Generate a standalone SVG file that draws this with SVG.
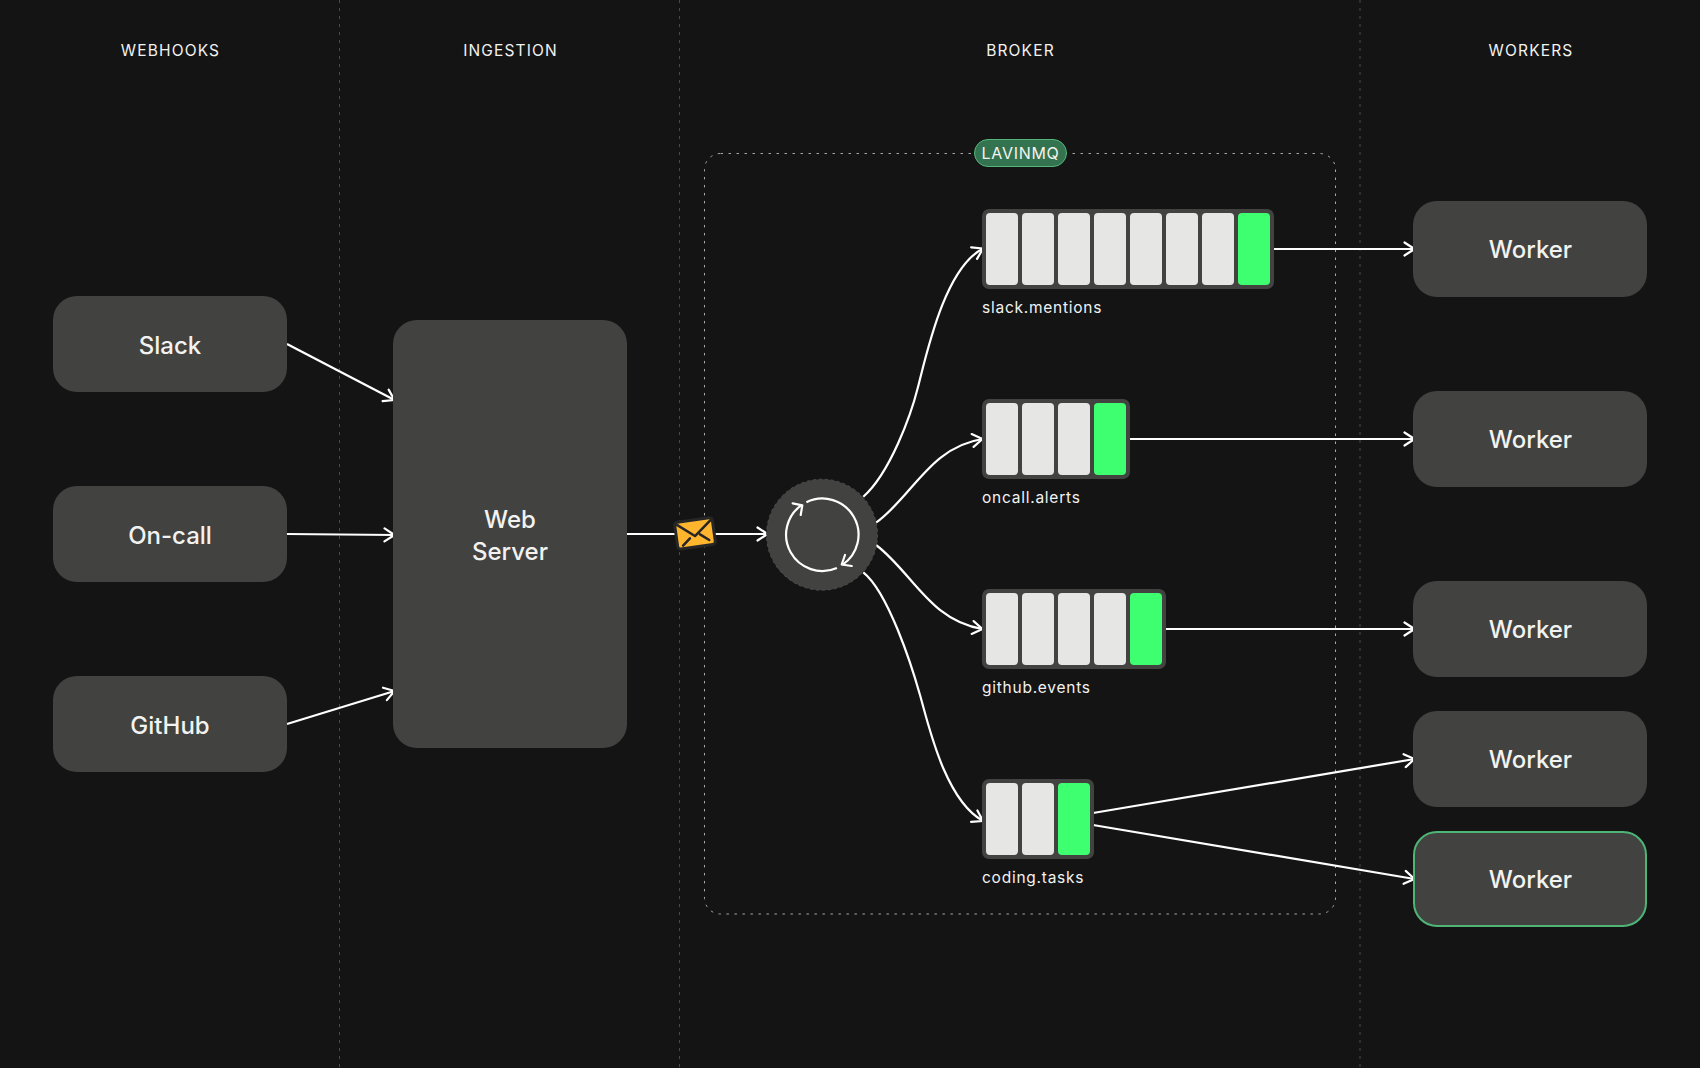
<svg xmlns="http://www.w3.org/2000/svg" width="1700" height="1068" viewBox="0 0 1700 1068">
<defs>
<style>
text{font-family:"Inter","Liberation Sans",sans-serif;fill:#f2f2f0}
.hd{font-size:15.5px;letter-spacing:1.15px;text-anchor:middle}
.nl{font-size:24px;font-weight:500;text-anchor:middle}
.ql{font-size:15.5px;letter-spacing:.75px}
.n{fill:#424241}
.q{fill:#424241}
.c{fill:#e6e6e4}
.g{fill:#3eff6f}
.v{stroke:#4a4a4a;stroke-width:1;stroke-dasharray:3 5;fill:none}
.e{stroke:#fff;stroke-width:2.200;fill:none;marker-end:url(#a)}
</style>
<marker id="a" viewBox="0 0 14 16" refX="12" refY="8" markerWidth="14" markerHeight="16" markerUnits="userSpaceOnUse" orient="auto"><path d="M2 1.500 L12 8 L2 14.500" fill="none" stroke="#fff" stroke-width="2.200" stroke-linecap="round" stroke-linejoin="round"/></marker>
</defs>
<rect width="1700" height="1068" fill="#141414"/>
<g id="guides">
<path class="v" d="M339.500 0V1068M679.500 0V1068M1360 0V1068"/>
</g>
<g id="headers">
<text class="hd" x="170.500" y="56">WEBHOOKS</text>
<text class="hd" x="510.500" y="56">INGESTION</text>
<text class="hd" x="1020.500" y="56">BROKER</text>
<text class="hd" x="1531" y="56">WORKERS</text>
</g>
<g id="lavinmq-frame">
<rect x="704.500" y="153.500" width="631" height="760.500" rx="16" fill="none" stroke="#a8a8a8" stroke-width="1" stroke-dasharray="2.500 5.500"/>
</g>
<g id="connectors">
<path class="e" d="M287 344L394.500 400"/>
<path class="e" d="M287 534L394.500 535"/>
<path class="e" d="M287 724L394.500 691"/>
<path class="e" d="M627 534H767.500"/>
<path class="e" d="M863.300 496.700C890 473 911 415 918 387C927 352 945 268 983 248.500"/>
<path class="e" d="M876 522.700C912 497 930 447 982.500 439"/>
<path class="e" d="M876 545C912 572 930 621 982.500 629"/>
<path class="e" d="M863.300 572.300C888 592 911.500 665 920 695C928.500 725 945 800 983 821"/>
<path class="e" d="M1274 249H1414.500"/>
<path class="e" d="M1129 439H1414.500"/>
<path class="e" d="M1165 629H1414.500"/>
<path class="e" d="M1093 813L1414.500 759"/>
<path class="e" d="M1093 825L1414.500 879"/>
</g>
<g id="slack"><rect class="n" x="53" y="296" width="234" height="96" rx="24"/><text class="nl" x="170" y="353.500">Slack</text></g>
<g id="oncall"><rect class="n" x="53" y="486" width="234" height="96" rx="24"/><text class="nl" x="170" y="543.500">On-call</text></g>
<g id="github"><rect class="n" x="53" y="676" width="234" height="96" rx="24"/><text class="nl" x="170" y="733.500">GitHub</text></g>
<g id="web-server"><rect class="n" x="393" y="320" width="234" height="428" rx="24"/><text class="nl" x="510" y="527.500">Web</text><text class="nl" x="510" y="559.500">Server</text></g>
<g id="envelope" transform="translate(695 533.300) rotate(-8)">
<rect x="-19" y="-13.500" width="38" height="27" rx="3" fill="#ffb52e" stroke="#262626" stroke-width="3"/>
<path d="M-17.500 -11.500L-.4 2.700L18 -11.500M-5.700 4.300L-13.500 10.500M4.800 1.700L13.200 8.600" fill="none" stroke="#262626" stroke-width="2.500" stroke-linecap="round" stroke-linejoin="round"/>
</g>
<g id="exchange">
<circle cx="822" cy="534.700" r="55.500" fill="#424241" stroke="#4e4e4e" stroke-width="1" stroke-dasharray="3 3"/>
<path d="M806.400 502.200A36.200 36.200 0 0 1 842.300 564.900" fill="none" stroke="#fff" stroke-width="2.200"/>
<path d="M836.900 567.900A36.200 36.200 0 0 1 802 504.800" fill="none" stroke="#fff" stroke-width="2.200"/>
<path d="M792.700 503.300L802.300 505.300L800.700 515M851.700 566L841.700 564.500L845 555" fill="none" stroke="#fff" stroke-width="2.200" stroke-linecap="round" stroke-linejoin="round"/>
</g>
<g id="q-slack">
<rect class="q" x="982" y="209" width="292" height="80" rx="7"/>
<rect class="c" x="986" y="213" width="32" height="72" rx="4"/><rect class="c" x="1022" y="213" width="32" height="72" rx="4"/><rect class="c" x="1058" y="213" width="32" height="72" rx="4"/><rect class="c" x="1094" y="213" width="32" height="72" rx="4"/><rect class="c" x="1130" y="213" width="32" height="72" rx="4"/><rect class="c" x="1166" y="213" width="32" height="72" rx="4"/><rect class="c" x="1202" y="213" width="32" height="72" rx="4"/><rect class="g" x="1238" y="213" width="32" height="72" rx="4"/>
<text class="ql" x="982" y="313">slack.mentions</text>
</g>
<g id="q-oncall">
<rect class="q" x="982" y="399" width="148" height="80" rx="7"/>
<rect class="c" x="986" y="403" width="32" height="72" rx="4"/><rect class="c" x="1022" y="403" width="32" height="72" rx="4"/><rect class="c" x="1058" y="403" width="32" height="72" rx="4"/><rect class="g" x="1094" y="403" width="32" height="72" rx="4"/>
<text class="ql" x="982" y="503">oncall.alerts</text>
</g>
<g id="q-github">
<rect class="q" x="982" y="589" width="184" height="80" rx="7"/>
<rect class="c" x="986" y="593" width="32" height="72" rx="4"/><rect class="c" x="1022" y="593" width="32" height="72" rx="4"/><rect class="c" x="1058" y="593" width="32" height="72" rx="4"/><rect class="c" x="1094" y="593" width="32" height="72" rx="4"/><rect class="g" x="1130" y="593" width="32" height="72" rx="4"/>
<text class="ql" x="982" y="693">github.events</text>
</g>
<g id="q-coding">
<rect class="q" x="982" y="779" width="112" height="80" rx="7"/>
<rect class="c" x="986" y="783" width="32" height="72" rx="4"/><rect class="c" x="1022" y="783" width="32" height="72" rx="4"/><rect class="g" x="1058" y="783" width="32" height="72" rx="4"/>
<text class="ql" x="982" y="883">coding.tasks</text>
</g>
<g id="lavinmq"><rect x="974.500" y="139.500" width="92" height="27" rx="13.500" fill="#34734f" stroke="#55b67a" stroke-width="1"/><text x="1020.500" y="159" font-size="16" letter-spacing=".7" text-anchor="middle">LAVINMQ</text></g>
<g id="worker-1"><rect class="n" x="1413" y="201" width="234" height="96" rx="24"/><text class="nl" x="1530.500" y="258">Worker</text></g>
<g id="worker-2"><rect class="n" x="1413" y="391" width="234" height="96" rx="24"/><text class="nl" x="1530.500" y="448">Worker</text></g>
<g id="worker-3"><rect class="n" x="1413" y="581" width="234" height="96" rx="24"/><text class="nl" x="1530.500" y="638">Worker</text></g>
<g id="worker-4"><rect class="n" x="1413" y="711" width="234" height="96" rx="24"/><text class="nl" x="1530.500" y="768">Worker</text></g>
<g id="worker-5"><rect class="n" x="1414" y="832" width="232" height="94" rx="23" stroke="#4fb576" stroke-width="2"/><text class="nl" x="1530.500" y="888">Worker</text></g>
</svg>
